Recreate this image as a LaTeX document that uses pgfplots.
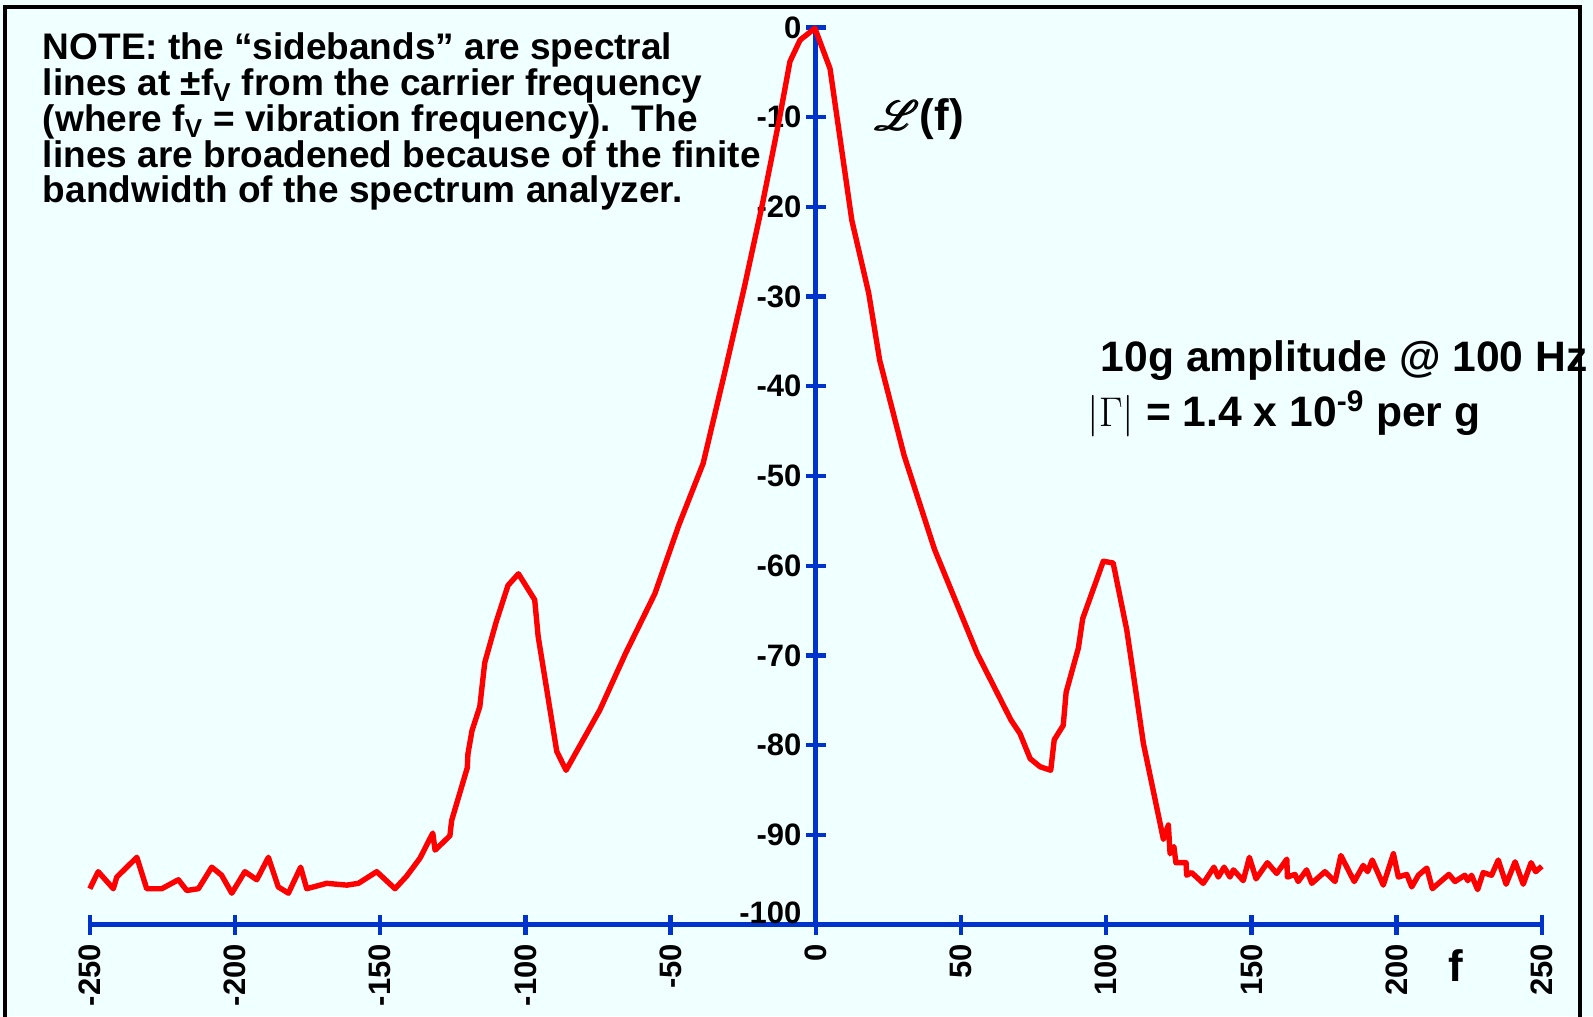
\documentclass[border=0pt]{standalone}
\usepackage{fontspec}
\setmainfont{Liberation Sans}
\usepackage{amsmath}
\usepackage{mathrsfs}
\usepackage{pgfplots}
\pgfplotsset{compat=1.18}
\definecolor{bg}{HTML}{F0FFFF}
\definecolor{axblue}{HTML}{0033CC}
\definecolor{lred}{HTML}{FF0000}
\begin{document}
\begin{tikzpicture}
\useasboundingbox (-44.9pt,-45.7pt) rectangle (751.6pt,462.3pt);
\fill[bg] (-44.9pt,-45.7pt) rectangle (751.6pt,462.3pt);
\begin{axis}[
  scale only axis, width=726pt, height=448.6pt,
  xmin=-250, xmax=250, ymin=-100, ymax=0,
  axis x line=bottom, axis y line=center,
  axis line style={-, draw=axblue, line width=2.6pt},
  hide obscured x ticks=false, hide obscured y ticks=false,
  xtick={-250,-200,-150,-100,-50,0,50,100,150,200,250},
  xticklabels={-250,-200,-150,-100,-50,0,50,100,150,200,250},
  ytick={-100,-90,-80,-70,-60,-50,-40,-30,-20,-10,0},
  yticklabels={\raisebox{12pt}{-100},-90,-80,-70,-60,-50,-40,-30,-20,-10,0},
  tick align=center, major tick length=10pt,
  tick style={draw=axblue, line width=2.2pt},
  x tick label style={rotate=90, anchor=east, font=\fontsize{15.5pt}{18pt}\selectfont\bfseries, inner sep=0pt, xshift=-4.5pt},
  y tick label style={anchor=east, font=\fontsize{15.5pt}{18pt}\selectfont\bfseries, inner sep=0pt, xshift=-2pt},
  clip=false,
]
\addplot[lred, line width=2.7pt, line join=round] coordinates {
(-250,-96.0) (-247.1,-94.1) (-241.9,-96.0) (-240.7,-94.7) (-233.8,-92.5)
(-230.4,-96.0) (-225.2,-96.0) (-219.5,-95.0) (-216.6,-96.2) (-212.6,-96.0)
(-208.0,-93.6) (-204.6,-94.5) (-201.1,-96.5) (-196.6,-94.1) (-192.5,-95.0)
(-188.5,-92.5) (-185.1,-95.8) (-181.6,-96.5) (-177.4,-93.6) (-175.3,-96.0)
(-168.4,-95.4) (-161.5,-95.6) (-157.5,-95.4) (-151.2,-94.1) (-144.9,-96.0)
(-140.9,-94.6) (-136.3,-92.6) (-131.9,-89.8) (-131.1,-91.7) (-126.0,-90.1)
(-125.4,-88.4) (-120.0,-82.5) (-119.8,-81.0) (-118.4,-78.4) (-115.7,-75.7)
(-114.0,-70.8) (-110.0,-66.2) (-106.0,-62.2) (-102.4,-60.9) (-96.8,-63.8)
(-95.6,-67.9) (-89.2,-80.7) (-86.0,-82.8) (-74.4,-76.1) (-65.4,-69.7)
(-55.4,-63.1) (-47.2,-55.5) (-38.8,-48.6) (-31.1,-38.1) (-24.5,-28.8)
(-18.2,-19.4) (-12.6,-10.3) (-8.9,-3.8) (-5.4,-1.4) (-0.3,-0.1)
(4.9,-4.6) (12.4,-21.5) (18.2,-29.6) (22.0,-37.1) (30.4,-47.7)
(40.9,-58.2) (55.6,-69.8) (67.2,-77.2) (70.3,-78.7) (73.8,-81.5)
(77.2,-82.4) (80.9,-82.8) (82.1,-79.4) (85.2,-77.8) (86.2,-74.1)
(90.4,-69.2) (91.9,-65.9) (99.0,-59.5) (102.4,-59.7) (107.1,-67.2)
(109.3,-72.0) (112.8,-79.8) (119.7,-90.5) (121.4,-88.9) (122.0,-92.1)
(123.3,-91.3) (124.0,-93.1) (127.5,-93.1) (127.7,-94.5) (129.4,-94.2)
(133.4,-95.4) (137.1,-93.6) (138.6,-94.7) (140.6,-93.6) (142.6,-94.7)
(143.8,-93.9) (147.2,-95.1) (149.3,-92.5) (151.6,-94.9) (155.5,-93.1)
(158.7,-94.3) (162.2,-92.7) (162.4,-94.7) (165.0,-94.4) (166.1,-95.2)
(169.0,-93.9) (170.8,-95.4) (175.3,-94.1) (178.8,-95.2) (180.8,-92.3)
(185.4,-95.2) (188.5,-93.4) (190.0,-94.1) (191.6,-92.8) (195.4,-95.6)
(198.9,-92.1) (200.6,-94.7) (203.5,-94.4) (205.2,-95.8) (207.5,-94.5)
(210.4,-93.7) (212.3,-96.0) (218.0,-94.4) (220.1,-95.2) (223.5,-94.5)
(224.5,-95.1) (225.8,-94.5) (227.9,-96.1) (229.8,-94.2) (232.7,-94.5)
(235.0,-92.8) (237.7,-95.5) (240.8,-93.0) (243.6,-95.5) (246.3,-93.1)
(247.9,-94.1) (250.0,-93.5)
};
\end{axis}
\draw[black, line width=2.2pt] (-42.4pt,-60pt) -- (-42.4pt,458.8pt) -- (745pt,458.8pt) -- (745pt,-60pt);
\node[anchor=north west, align=left, inner sep=0pt, font=\fontsize{18.5pt}{17.9pt}\selectfont\bfseries] at (-23.6pt,446pt)
{NOTE: the “sidebands” are spectral\\
lines at ±f\textsubscript{V} from the carrier frequency\\
(where f\textsubscript{V} = vibration frequency).\ \ The\\
lines are broadened because of the finite\\
bandwidth of the spectrum analyzer.};
\node[font=\fontsize{22pt}{24pt}\selectfont\bfseries] at (414.9pt,402.6pt) {$\pmb{\mathscr{L}}$(f)};
\node[anchor=base west, inner sep=0pt, font=\fontsize{21.3pt}{24pt}\selectfont\bfseries] at (505.3pt,276.4pt) {10g amplitude @ 100 Hz};
\node[anchor=base west, inner sep=0pt, font=\fontsize{21.3pt}{24pt}\selectfont\bfseries] at (498.6pt,249pt) {$|\Gamma|$ = 1.4 x 10\textsuperscript{-9} per g};
\node[font=\fontsize{22pt}{24pt}\selectfont\bfseries] at (683pt,-20.7pt) {f};
\end{tikzpicture}
\end{document}
